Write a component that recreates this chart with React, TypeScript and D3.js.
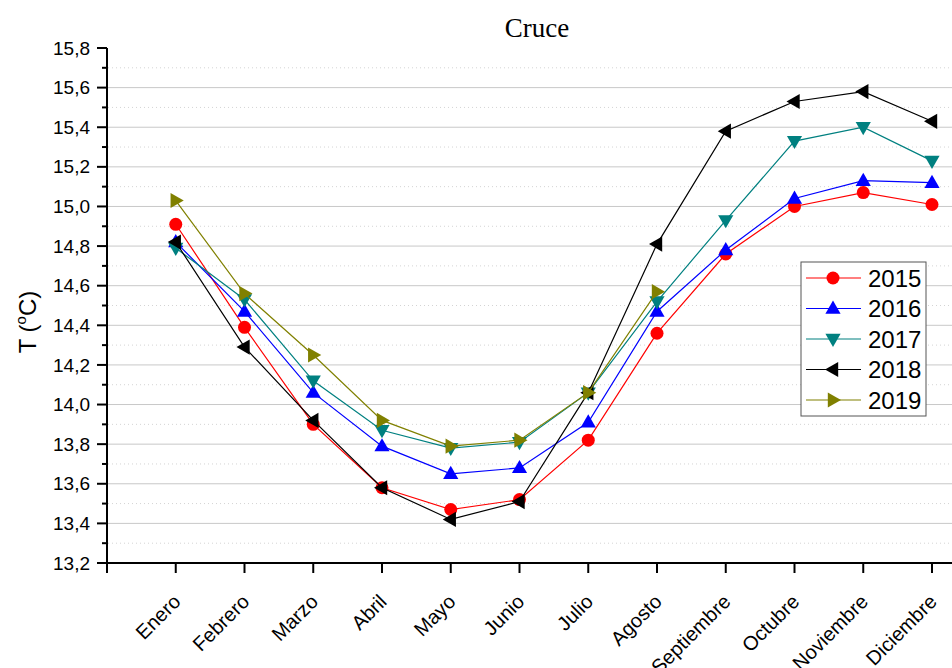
import React from "react";
import * as d3 from "d3";

const months = ["Enero", "Febrero", "Marzo", "Abril", "Mayo", "Junio", "Julio", "Agosto", "Septiembre", "Octubre", "Noviembre", "Diciembre"];
const t2015 = [14.91, 14.39, 13.90, 13.58, 13.47, 13.52, 13.82, 14.36, 14.76, 15.00, 15.07, 15.01];
const t2016 = [14.82, 14.47, 14.06, 13.79, 13.65, 13.68, 13.91, 14.47, 14.78, 15.04, 15.13, 15.12];
const t2017 = [14.79, 14.53, 14.12, 13.87, 13.78, 13.81, 14.06, 14.52, 14.93, 15.33, 15.40, 15.23];
const t2018 = [14.82, 14.29, 13.92, 13.58, 13.42, 13.51, 14.06, 14.81, 15.38, 15.53, 15.58, 15.43];
const t2019 = [15.03, 14.56, 14.25, 13.92, 13.79, 13.82, 14.06, 14.57];
const yTicks = [13.2, 13.4, 13.6, 13.8, 14.0, 14.2, 14.4, 14.6, 14.8, 15.0, 15.2, 15.4, 15.6, 15.8];

type Shape = "circle" | "up" | "down" | "left" | "right";
const series: { name: string; values: number[]; color: string; shape: Shape }[] = [
  { name: "2015", values: t2015, color: "#ff0000", shape: "circle" },
  { name: "2016", values: t2016, color: "#0000ff", shape: "up" },
  { name: "2017", values: t2017, color: "#008080", shape: "down" },
  { name: "2018", values: t2018, color: "#000000", shape: "left" },
  { name: "2019", values: t2019, color: "#808000", shape: "right" },
];

const W = 952;
const H = 668;
const left = 107;
const top = 48;
const bottom = 563;
const step = 68.75;

const x = d3.scaleLinear().domain([0, 1]).range([left, left + step]);
const y = d3.scaleLinear().domain([13.2, 15.8]).range([bottom, top]);

const font = "Arial, 'Liberation Sans', sans-serif";

function Marker({ shape, cx, cy, color }: { shape: Shape; cx: number; cy: number; color: string }) {
  if (shape === "circle") return <circle cx={cx} cy={cy} r={6.5} fill={color} />;
  const s = 8;
  let pts: [number, number][] = [];
  if (shape === "up") pts = [[0, -s], [s * 0.95, s * 0.65], [-s * 0.95, s * 0.65]];
  if (shape === "down") pts = [[0, s], [s * 0.95, -s * 0.65], [-s * 0.95, -s * 0.65]];
  if (shape === "left") pts = [[-s, 0], [s * 0.65, -s * 0.95], [s * 0.65, s * 0.95]];
  if (shape === "right") pts = [[s, 0], [-s * 0.65, -s * 0.95], [-s * 0.65, s * 0.95]];
  return <polygon points={pts.map(([a, b]) => `${cx + a},${cy + b}`).join(" ")} fill={color} />;
}

export default function App() {
  const line = d3.line<number>().x((_, i) => x(i + 1)).y((d) => y(d));
  const minor = d3.range(13.3, 15.8, 0.2);
  const legendX = 801;
  const legendY = 262;
  const rowH = 30.5;
  return (
    <svg width={W} height={H} style={{ position: "absolute", left: 0, top: 0, background: "#fff" }}>
      {/* grid */}
      {yTicks.slice(1, -1).map((v) => (
        <line key={"g" + v} x1={left + 1} x2={W} y1={y(v)} y2={y(v)} stroke="#c8c8c8" strokeWidth={1} />
      ))}
      {minor.map((v) => (
        <line key={"m" + v} x1={left + 1} x2={W} y1={y(v)} y2={y(v)} stroke="#d4d4d4" strokeWidth={1} strokeDasharray="1,3" />
      ))}

      {/* axes */}
      <line x1={left} x2={W} y1={bottom} y2={bottom} stroke="#000" strokeWidth={2} />
      <line x1={left} x2={left} y1={top} y2={bottom} stroke="#000" strokeWidth={2} />
      {yTicks.map((v) => (
        <g key={"yt" + v}>
          <line x1={left - 10} x2={left} y1={y(v)} y2={y(v)} stroke="#000" strokeWidth={2} />
          <text x={90} y={y(v)} dy="0.35em" textAnchor="end" fontFamily={font} fontSize={19}>
            {v.toFixed(1).replace(".", ",")}
          </text>
        </g>
      ))}
      {minor.map((v) => (
        <line key={"ym" + v} x1={left - 5} x2={left} y1={y(v)} y2={y(v)} stroke="#000" strokeWidth={2} />
      ))}
      {d3.range(0, 14).map((i) => (
        <line key={"xt" + i} x1={x(i)} x2={x(i)} y1={bottom} y2={bottom + 10} stroke="#000" strokeWidth={2} />
      ))}
      {months.map((m, i) => (
        <text
          key={m}
          transform={`translate(${x(i + 1) + 6},${bottom + 40}) rotate(-45)`}
          textAnchor="end"
          fontFamily={font}
          fontSize={20}
        >
          {m}
        </text>
      ))}

      {/* title & axis label */}
      <text x={537} y={37} textAnchor="middle" fontFamily="'Times New Roman', 'Liberation Serif', serif" fontSize={27}>
        Cruce
      </text>
      <text transform="translate(36,322) rotate(-90)" textAnchor="middle" fontFamily={font} fontSize={24}>
        T (<tspan fontSize={15} dy={-10}>o</tspan>
        <tspan dy={10}>C)</tspan>
      </text>

      {/* series */}
      {series.map((s) => (
        <g key={s.name}>
          <path d={line(s.values) ?? ""} fill="none" stroke={s.color} strokeWidth={1.2} />
          {s.values.map((v, i) => (
            <Marker key={i} shape={s.shape} cx={x(i + 1)} cy={y(v)} color={s.color} />
          ))}
        </g>
      ))}

      {/* legend */}
      <rect x={legendX} y={legendY} width={125} height={154} fill="#fff" stroke="#555" strokeWidth={1} />
      {series.map((s, i) => {
        const cy = legendY + 16 + i * rowH;
        return (
          <g key={"l" + s.name}>
            <line x1={legendX + 5} x2={legendX + 60} y1={cy} y2={cy} stroke={s.color} strokeWidth={1.2} />
            <Marker shape={s.shape} cx={legendX + 32} cy={cy} color={s.color} />
            <text x={legendX + 67} y={cy} dy="0.36em" fontFamily={font} fontSize={24}>
              {s.name}
            </text>
          </g>
        );
      })}
    </svg>
  );
}
